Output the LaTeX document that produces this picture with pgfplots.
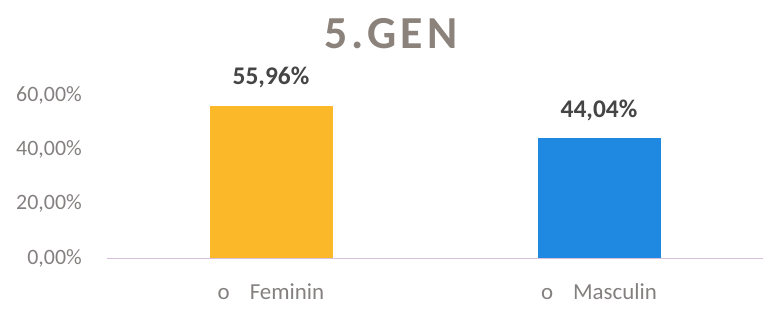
\documentclass[border=0pt]{standalone}
\usepackage{fontspec}
\setmainfont{Carlito}
\usepackage{pgfplots}
\pgfplotsset{compat=1.18}
\definecolor{fem}{HTML}{FBB829}
\definecolor{masc}{HTML}{1F88E0}
\definecolor{ticktxt}{HTML}{858080}
\definecolor{axline}{HTML}{D9BFD9}
\definecolor{titlec}{HTML}{8A827B}
\definecolor{lbl}{HTML}{454545}
\begin{document}
\begin{tikzpicture}[x=1bp,y=1bp]
\useasboundingbox (0,0) rectangle (779,316);
\node[anchor=base, text=titlec, font={\fontsize{46}{46}\selectfont\bfseries\addfontfeature{LetterSpace=9}}] at (391,268) {5.GEN};
\begin{axis}[
  at={(107bp,58bp)}, anchor=south west,
  scale only axis, width=656bp, height=163bp,
  xmin=-0.5, xmax=1.5, ymin=0, ymax=60,
  axis lines*=left,
  y axis line style={draw=none},
  x axis line style={draw=axline, line width=1bp},
  major tick length=0pt,
  ytick={0,20,40,60},
  /pgf/number format/assume math mode=true,
  yticklabel={\pgfmathprintnumber[fixed,fixed zerofill,precision=2,use comma]{\tick}\%},
  yticklabel style={font=\fontsize{22}{22}\selectfont, text=ticktxt, inner sep=0pt, anchor=east, xshift=-25bp},
  xtick={0,1},
  xticklabels={{o\hspace{20bp}Feminin},{o\hspace{20bp}Masculin}},
  xticklabel style={font=\fontsize{23}{23}\selectfont, text=ticktxt, inner sep=0pt, anchor=base, yshift=-41bp},
  nodes near coords={\pgfmathprintnumber[fixed,fixed zerofill,precision=2,use comma]{\pgfplotspointmeta}\%},
  nodes near coords style={font=\fontsize{25.5}{25.5}\selectfont\bfseries, text=lbl, anchor=base, inner sep=0pt, yshift=21bp},
  clip=false,
]
\addplot[ybar, bar width=123bp, bar shift=0pt, fill=fem, draw=none] coordinates {(0,55.96)};
\addplot[ybar, bar width=123bp, bar shift=0pt, fill=masc, draw=none] coordinates {(1,44.04)};
\end{axis}
\end{tikzpicture}
\end{document}
